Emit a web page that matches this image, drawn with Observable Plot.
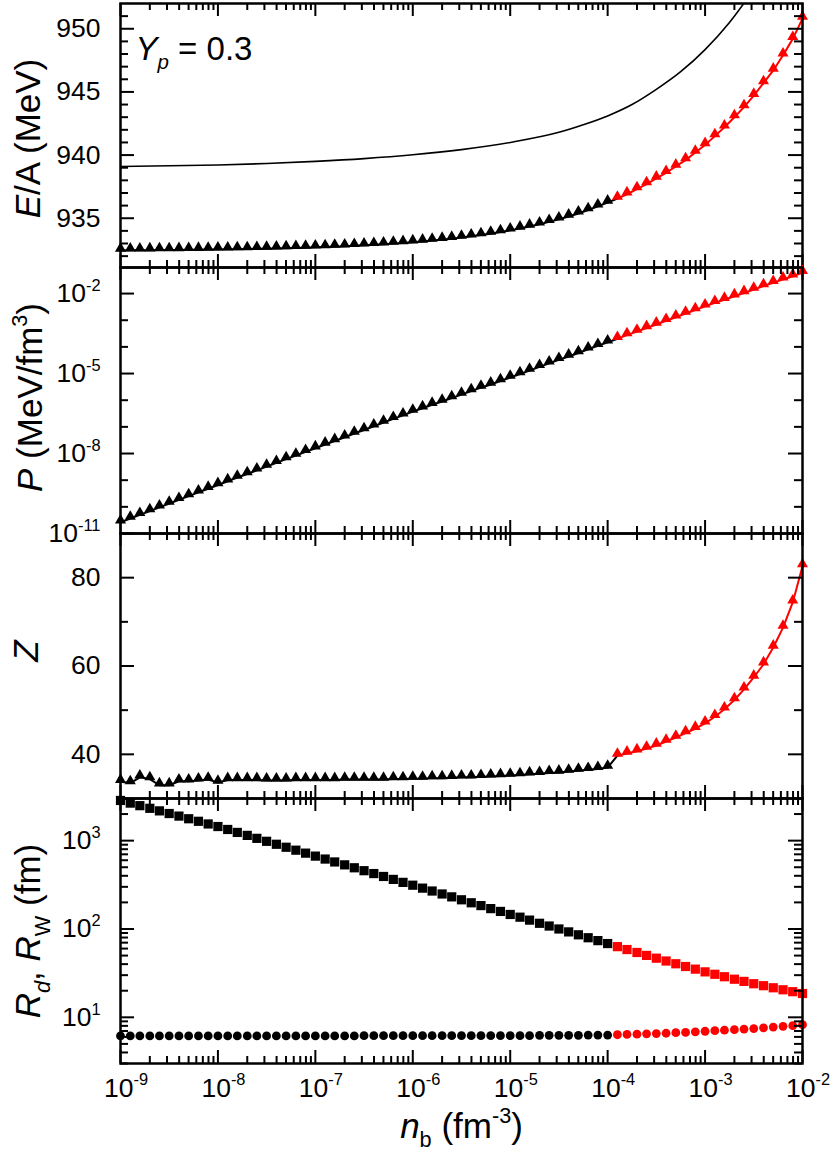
<!DOCTYPE html>
<html><head><meta charset="utf-8">
<script src="https://cdn.jsdelivr.net/npm/d3@7"></script>
<script src="https://cdn.jsdelivr.net/npm/@observablehq/plot@0.6"></script>
<style>
html,body{margin:0;padding:0;background:#fff;}
#chart{width:830px;}
#chart svg{display:block;overflow:visible;}
</style></head><body><div id="chart"></div>
<script>
// ---------------- DATA ----------------
const nb = [
  1e-9,1.26e-9,1.58e-9,2.00e-9,2.51e-9,3.16e-9,3.98e-9,5.01e-9,6.31e-9,7.94e-9,
  1e-8,1.26e-8,1.58e-8,2.00e-8,2.51e-8,3.16e-8,3.98e-8,5.01e-8,6.31e-8,7.94e-8,
  1e-7,1.26e-7,1.58e-7,2.00e-7,2.51e-7,3.16e-7,3.98e-7,5.01e-7,6.31e-7,7.94e-7,
  1e-6,1.26e-6,1.58e-6,2.00e-6,2.51e-6,3.16e-6,3.98e-6,5.01e-6,6.31e-6,7.94e-6,
  1e-5,1.26e-5,1.58e-5,2.00e-5,2.51e-5,3.16e-5,3.98e-5,5.01e-5,6.31e-5,7.94e-5,
  1e-4,1.26e-4,1.58e-4,2.00e-4,2.51e-4,3.16e-4,3.98e-4,5.01e-4,6.31e-4,7.94e-4,
  1e-3,1.26e-3,1.58e-3,2.00e-3,2.51e-3,3.16e-3,3.98e-3,5.01e-3,6.31e-3,7.94e-3,
  1e-2
];
// E/A of the crust (triangles)
const energyPerNucleon = [
  932.45,932.46,932.46,932.47,932.48,932.48,932.49,932.50,932.51,932.52,
  932.53,932.54,932.55,932.56,932.58,932.59,932.61,932.63,932.65,932.67,
  932.70,932.72,932.75,932.78,932.82,932.86,932.90,932.94,932.99,933.04,
  933.10,933.16,933.23,933.30,933.38,933.47,933.57,933.67,933.78,933.91,
  934.04,934.19,934.35,934.52,934.71,934.91,935.14,935.38,935.65,935.94,
  936.25,
  936.55,936.90,937.30,937.70,938.15,938.60,939.10,939.60,940.20,940.80,
  941.50,942.20,943.00,943.80,944.70,945.70,946.70,947.90,949.20,950.80
];
// thin black curve in the E/A panel (uniform matter)
const nbUniform = [1e-9,3.16e-9,1e-8,3.16e-8,1e-7,3.16e-7,1e-6,3.16e-6,1e-5,3.16e-5,5.62e-5,1e-4,1.78e-4,3.16e-4,5.62e-4,1e-3,1.78e-3,3.16e-3];
const energyUniform = [939.10,939.15,939.22,939.33,939.50,939.72,940.02,940.43,941.00,941.80,942.40,943.10,944.00,945.20,946.60,948.35,950.50,953.10];
// pressure (MeV/fm^3)
const pressure = [
  2.63e-11,3.63e-11,5.01e-11,6.92e-11,9.55e-11,1.32e-10,1.82e-10,2.51e-10,3.47e-10,4.79e-10,
  6.61e-10,9.12e-10,1.26e-9,1.70e-9,2.34e-9,3.24e-9,4.47e-9,6.17e-9,8.32e-9,1.15e-8,
  1.58e-8,2.19e-8,2.95e-8,4.07e-8,5.62e-8,7.59e-8,1.05e-7,1.45e-7,2.00e-7,2.69e-7,
  3.72e-7,5.01e-7,6.76e-7,8.91e-7,1.20e-6,1.62e-6,2.19e-6,2.95e-6,3.89e-6,5.25e-6,
  7.08e-6,9.55e-6,1.29e-5,1.78e-5,2.40e-5,3.24e-5,4.37e-5,5.89e-5,8.13e-5,1.10e-4,
  1.48e-4,
  2.00e-4,2.75e-4,3.72e-4,5.13e-4,6.92e-4,9.55e-4,1.29e-3,1.78e-3,2.40e-3,3.31e-3,
  4.47e-3,5.89e-3,7.94e-3,1.05e-2,1.41e-2,1.91e-2,2.51e-2,3.39e-2,4.47e-2,6.03e-2
];
// proton number Z
const protonNumber = [
  33.8,33.5,34.8,34.4,33.0,33.0,33.9,33.9,34.1,34.3,
  33.6,34.2,34.2,34.2,34.2,34.1,34.1,34.1,34.2,34.2,
  34.2,34.2,34.2,34.3,34.3,34.3,34.3,34.3,34.4,34.4,
  34.5,34.5,34.6,34.6,34.7,34.8,34.8,34.9,35.0,35.1,
  35.2,35.3,35.5,35.6,35.8,35.9,36.1,36.3,36.5,36.7,
  37.0,
  39.7,40.2,40.7,41.3,42.0,42.9,43.8,44.8,45.8,47.0,
  48.5,50.2,52.3,54.7,57.4,60.4,64.2,68.7,74.4,82.6
];
// Wigner-Seitz radius R_W (squares)
const radiusWS = [
  2851,2661,2489,2323,2173,2028,1897,1770,1656,1545,
  1445,1338,1239,1147,1062,983,910,842,780,722,
  668,619,574,532,493,457,424,393,364,337,
  313,290,269,249,231,214,198,184,170,158,
  146,136,126,116,108,100,92.7,85.9,79.6,73.8,
  68.4,
  63.1,58.5,54.2,50.2,46.7,43.4,40.4,37.6,35.1,32.7,
  30.7,28.8,27.0,25.5,24.0,22.8,21.6,20.5,19.5,18.6
];
// droplet radius R_d (circles)
const radiusDrop = [
  6.15,6.15,6.15,6.15,6.15,6.15,6.15,6.15,6.15,6.15,
  6.15,6.15,6.15,6.15,6.15,6.15,6.15,6.15,6.15,6.15,
  6.15,6.15,6.15,6.15,6.15,6.2,6.2,6.2,6.2,6.2,
  6.2,6.2,6.2,6.2,6.2,6.2,6.2,6.2,6.2,6.2,
  6.2,6.2,6.2,6.25,6.25,6.25,6.25,6.25,6.3,6.3,
  6.3,
  6.35,6.4,6.45,6.5,6.55,6.6,6.7,6.75,6.85,6.95,
  7.05,7.15,7.25,7.35,7.45,7.6,7.75,7.9,8.05,8.25
];
const nbSplit = 1.1e-4; // red beyond this density

// tick values / labels
const xTickValues = [1e-9,1e-8,1e-7,1e-6,1e-5,1e-4,1e-3,1e-2];
const xTickLabels = ["10^{-9}","10^{-8}","10^{-7}","10^{-6}","10^{-5}","10^{-4}","10^{-3}","10^{-2}"];
const eTickValues = [935,940,945,950];
const eTickLabels = ["935","940","945","950"];
const pTickValues = [1e-11,1e-8,1e-5,1e-2];
const pTickLabels = ["10^{-11}","10^{-8}","10^{-5}","10^{-2}"];
const zTickValues = [40,60,80];
const zTickLabels = ["40","60","80"];
const rTickValues = [10,100,1000];
const rTickLabels = ["10^{1}","10^{2}","10^{3}"];

const titles = {
  e: "*E*/A (MeV)",
  p: "*P* (MeV/fm^{3})",
  z: "*Z*",
  r: "*R*_{*d*}, *R*_{W} (fm)",
  x: "*n*_{b} (fm^{-3})",
  note: "*Y*_{*p*} = 0.3"
};

// ---------------- LAYOUT ----------------
const W = 830, ML = 120, MR = 28, FW = W - ML - MR;
const FONT = "'Liberation Sans', Arial, Helvetica, sans-serif";
const RED = "#ff0000";
const TICK_FS = 26.5, TITLE_FS = 35;

const rows = nb.map((n, i) => ({
  nb: n, E: energyPerNucleon[i], P: pressure[i], Z: protonNumber[i],
  Rw: radiusWS[i], Rd: radiusDrop[i], color: n > nbSplit ? RED : "black"
}));
const rowsBlack = rows.filter(d => d.nb <= 1.3e-4);
const rowsRed = rows.filter(d => d.nb >= 1.2e-4);
const uniformRows = nbUniform.map((n, i) => ({nb: n, E: energyUniform[i]}));

const xMinor = [];
for (let e = -9; e < -2; e++) for (let m = 2; m <= 9; m++) xMinor.push(m * Math.pow(10, e));

function frameMarks(H, yMajor, yMinor) {
  const s = {stroke: "black", strokeWidth: 2};
  return [
    Plot.ruleX(xTickValues, {x: d => d, insetTop: H - 13, ...s}),
    Plot.ruleX(xTickValues, {x: d => d, insetBottom: H - 13, ...s}),
    Plot.ruleX(xMinor, {x: d => d, insetTop: H - 7, ...s}),
    Plot.ruleX(xMinor, {x: d => d, insetBottom: H - 7, ...s}),
    Plot.ruleY(yMajor, {y: d => d, insetRight: FW - 14, ...s}),
    Plot.ruleY(yMajor, {y: d => d, insetLeft: FW - 14, ...s}),
    Plot.ruleY(yMinor, {y: d => d, insetRight: FW - 8, ...s}),
    Plot.ruleY(yMinor, {y: d => d, insetLeft: FW - 8, ...s}),
    Plot.frame({stroke: "black", strokeWidth: 2.5})
  ];
}
function yLabels(values, labels) {
  return Plot.text(values, {y: d => d, text: (d, i) => labels[i], frameAnchor: "left",
    textAnchor: "end", dx: -20, fontSize: TICK_FS, fill: "black"});
}
function yTitle(t, dx, dy) {
  return Plot.text([t], {text: d => d, frameAnchor: "left", textAnchor: "middle", rotate: -90, dx, dy,
    fontSize: TITLE_FS, fill: "black"});
}
function triangleSeries(key) {
  return [
    Plot.line(rowsBlack, {x: "nb", y: key, stroke: "black", strokeWidth: 2}),
    Plot.line(rowsRed, {x: "nb", y: key, stroke: RED, strokeWidth: 2}),
    Plot.dot(rows, {x: "nb", y: key, symbol: "triangle", r: 4.1, fill: "color", stroke: "none", dy: -2})
  ];
}
function basePlot(opts) {
  return Plot.plot({
    width: W, marginLeft: ML, marginRight: MR,
    style: {fontFamily: FONT, overflow: "visible", background: "transparent"},
    x: {type: "log", domain: [1e-9, 1e-2], axis: null},
    color: {type: "identity"},
    ...opts
  });
}

// panel 1: E/A
const minorE = [932,933,934,936,937,938,939,941,942,943,944,946,947,948,949,951];
const p1 = basePlot({
  height: 267, marginTop: 3, marginBottom: 0,
  y: {domain: [931.1, 952.0], axis: null},
  marks: [
    Plot.line(uniformRows, {x: "nb", y: "E", stroke: "black", strokeWidth: 1.6, curve: "monotone-x", clip: true}),
    ...triangleSeries("E"),
    ...frameMarks(264, eTickValues, minorE),
    yLabels(eTickValues, eTickLabels),
    yTitle(titles.e, -92, 3),
    Plot.text([titles.note], {text: d => d, frameAnchor: "top-left", textAnchor: "start", dx: 15, dy: 33, fontSize: 33, fill: "black"})
  ]
});
// panel 2: P
const minorP = [1e-10,1e-9,1e-7,1e-6,1e-4,1e-3];
const p2 = basePlot({
  height: 266, marginTop: 0, marginBottom: 0,
  y: {type: "log", domain: [1e-11, 0.095], axis: null},
  marks: [
    ...triangleSeries("P"),
    ...frameMarks(266, pTickValues, minorP),
    yLabels(pTickValues, pTickLabels),
    yTitle(titles.p, -90, -3)
  ]
});
// panel 3: Z
const p3 = basePlot({
  height: 265, marginTop: 0, marginBottom: 0,
  y: {domain: [30, 90], axis: null},
  marks: [
    ...triangleSeries("Z"),
    ...frameMarks(265, zTickValues, [50, 70]),
    yLabels(zTickValues, zTickLabels),
    yTitle(titles.z, -94, -15)
  ]
});
// panel 4: radii
const minorR = [];
for (const dec of [1, 10, 100, 1000]) for (let m = 2; m <= 9; m++) { const v = m * dec; if (v >= 3 && v <= 3000) minorR.push(v); }
const p4 = basePlot({
  height: 367, marginTop: 0, marginBottom: 102,
  y: {type: "log", domain: [3, 3000], axis: null},
  marks: [
    Plot.dot(rows, {x: "nb", y: "Rw", symbol: "square", r: 5.2, fill: "color", stroke: "none"}),
    Plot.dot(rows, {x: "nb", y: "Rd", symbol: "circle", r: 4.4, fill: "color", stroke: "none"}),
    ...frameMarks(265, rTickValues, minorR),
    yLabels(rTickValues, rTickLabels),
    yTitle(titles.r, -92, 0),
    Plot.text(xTickValues, {x: d => d, text: (d, i) => xTickLabels[i], frameAnchor: "bottom",
      textAnchor: "start", dx: -16.5, dy: 33, fontSize: TICK_FS, fill: "black"}),
    Plot.text([titles.x], {text: d => d, frameAnchor: "bottom", textAnchor: "middle", dy: 74, fontSize: TITLE_FS, fill: "black"})
  ]
});

const chart = document.getElementById("chart");
for (const p of [p1, p2, p3, p4]) chart.appendChild(p);

// ---------- rich text: *italic*, ^{sup}, _{sub} ----------
function parseMarkup(s) {
  const segs = []; let italic = false, shift = 0, buf = "";
  const push = () => { if (buf) segs.push({t: buf, i: italic, s: shift}); buf = ""; };
  for (let j = 0; j < s.length; j++) {
    const c = s[j];
    if (c === "*") { push(); italic = !italic; }
    else if ((c === "^" || c === "_") && s[j + 1] === "{") { push(); shift = c === "^" ? 1 : -1; j++; }
    else if (c === "}" && shift !== 0) { push(); shift = 0; }
    else buf += c;
  }
  push();
  return segs;
}
const SVGNS = "http://www.w3.org/2000/svg";
chart.querySelectorAll("text").forEach(t => {
  const s = t.textContent;
  if (!/[*^_]/.test(s)) return;
  const fs = parseFloat(getComputedStyle(t).fontSize) || 26;
  const segs = parseMarkup(s);
  t.textContent = "";
  let cur = 0;
  for (const g of segs) {
    const ts = document.createElementNS(SVGNS, "tspan");
    ts.textContent = g.t;
    if (g.i) ts.setAttribute("font-style", "italic");
    const off = g.s === 1 ? -0.42 * fs : g.s === -1 ? 0.28 * fs : 0;
    if (off !== cur) { ts.setAttribute("dy", (off - cur).toFixed(2)); cur = off; }
    if (g.s) ts.setAttribute("font-size", (0.62 * fs).toFixed(1));
    t.appendChild(ts);
  }
});
</script></body></html>
